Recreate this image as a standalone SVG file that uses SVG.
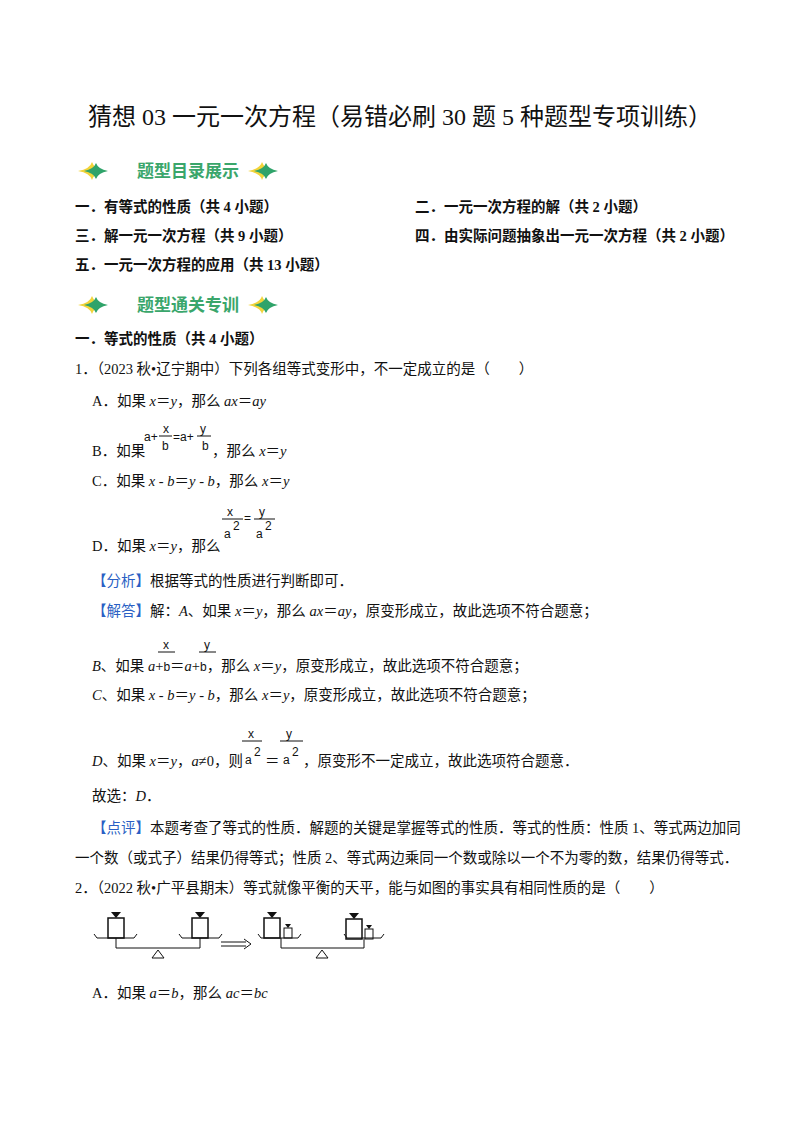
<svg xmlns="http://www.w3.org/2000/svg" width="800" height="1132" viewBox="0 0 800 1132">
<style>
text{font-family:"Liberation Serif","Noto Sans CJK SC",serif;font-size:14.5px;fill:#111}
.b{font-weight:bold;font-family:"Liberation Serif","Noto Sans CJK SC",serif}
.t{font-size:24px}
.ban{font-size:17px;font-weight:bold;fill:#3aa66b;font-family:"Noto Sans CJK SC",sans-serif}
.bl{fill:#2a5fc4}
.i{font-style:italic}
.f{font-family:"Liberation Sans",sans-serif;font-size:12px}
.ln{stroke:#111;stroke-width:1;fill:none}
.g{stroke:#111;stroke-width:1.5;fill:none}
</style>
<defs>
<g id="star"><path d="M0,-9 Q2,-2 14,0 Q2,2 0,9 Q-2,2 -14,0 Q-2,-2 0,-9Z" fill="#f2d43a"/><path d="M4,-8 Q6,-2 16,0 Q6,2 4,8 Q2,2 -8,0 Q2,-2 4,-8Z" fill="#2fa36a"/></g>
<g id="w"><rect x="-8" y="0" width="16" height="20" class="g"/><path d="M-5,-6 L5,-6 L0,0Z" fill="#111"/></g>
<g id="sw"><rect x="-4" y="0" width="8" height="10" class="ln"/><path d="M-3,-4 L3,-4 L0,0Z" fill="#111"/></g>
</defs>
<text x="400" y="125" text-anchor="middle" class="t">猜想 03 一元一次方程（易错必刷 30 题 5 种题型专项训练）</text>
<g id="banner1"><use href="#star" x="92" y="171"/><text x="188" y="177" text-anchor="middle" class="ban">题型目录展示</text><use href="#star" x="262" y="171"/></g>
<text x="75" y="212" class="b">一．有等式的性质（共 4 小题）</text>
<text x="415" y="212" class="b">二．一元一次方程的解（共 2 小题）</text>
<text x="75" y="241" class="b">三．解一元一次方程（共 9 小题）</text>
<text x="415" y="241" class="b">四．由实际问题抽象出一元一次方程（共 2 小题）</text>
<text x="75" y="270" class="b">五．一元一次方程的应用（共 13 小题）</text>
<g id="banner2"><use href="#star" x="92" y="305"/><text x="188" y="311" text-anchor="middle" class="ban">题型通关专训</text><use href="#star" x="262" y="305"/></g>
<text x="75" y="344" class="b">一．等式的性质（共 4 小题）</text>
<text x="75" y="374">1．（2023 秋•辽宁期中）下列各组等式变形中，不一定成立的是（　　）</text>
<text x="92" y="406">A．如果 <tspan class="i">x</tspan>＝<tspan class="i">y</tspan>，那么 <tspan class="i">ax</tspan>＝<tspan class="i">ay</tspan></text>
<text x="92" y="456">B．如果</text>
<text x="144" y="441" class="f">a+</text><text x="163" y="433" class="f">x</text><line x1="159" y1="436" x2="172" y2="436" class="ln"/><text x="162" y="450" class="f">b</text>
<text x="173" y="441" class="f">=a+</text><text x="200" y="433" class="f">y</text><line x1="197" y1="436" x2="211" y2="436" class="ln"/><text x="202" y="450" class="f">b</text>
<text x="212" y="456">，那么 <tspan class="i">x</tspan>＝<tspan class="i">y</tspan></text>
<text x="92" y="486">C．如果 <tspan class="i">x</tspan> - <tspan class="i">b</tspan>＝<tspan class="i">y</tspan> - <tspan class="i">b</tspan>，那么 <tspan class="i">x</tspan>＝<tspan class="i">y</tspan></text>
<text x="92" y="551">D．如果 <tspan class="i">x</tspan>＝<tspan class="i">y</tspan>，那么</text>
<text x="227" y="516" class="f">x</text><line x1="222" y1="519" x2="243" y2="519" class="ln"/><text x="224" y="538" class="f">a</text><text x="233" y="530" class="f">2</text>
<text x="244" y="522" class="f">=</text><text x="259" y="516" class="f">y</text><line x1="254" y1="519" x2="275" y2="519" class="ln"/><text x="256" y="538" class="f">a</text><text x="265" y="530" class="f">2</text>
<text x="92" y="586"><tspan class="bl">【分析】</tspan>根据等式的性质进行判断即可．</text>
<text x="92" y="616"><tspan class="bl">【解答】</tspan>解：<tspan class="i">A</tspan>、如果 <tspan class="i">x</tspan>＝<tspan class="i">y</tspan>，那么 <tspan class="i">ax</tspan>＝<tspan class="i">ay</tspan>，原变形成立，故此选项不符合题意；</text>
<text x="163" y="649" class="f">x</text><line x1="158" y1="652" x2="175" y2="652" class="ln"/>
<text x="204" y="649" class="f">y</text><line x1="199" y1="652" x2="216" y2="652" class="ln"/>
<text x="92" y="671"><tspan class="i">B</tspan>、如果 <tspan class="i">a</tspan>+<tspan class="f">b</tspan>＝<tspan class="i">a</tspan>+<tspan class="f">b</tspan>，那么 <tspan class="i">x</tspan>＝<tspan class="i">y</tspan>，原变形成立，故此选项不符合题意；</text>
<text x="92" y="700"><tspan class="i">C</tspan>、如果 <tspan class="i">x</tspan> - <tspan class="i">b</tspan>＝<tspan class="i">y</tspan> - <tspan class="i">b</tspan>，那么 <tspan class="i">x</tspan>＝<tspan class="i">y</tspan>，原变形成立，故此选项不符合题意；</text>
<text x="248" y="738" class="f">x</text><line x1="242" y1="741" x2="262" y2="741" class="ln"/>
<text x="286" y="738" class="f">y</text><line x1="280" y1="741" x2="303" y2="741" class="ln"/>
<text x="92" y="766"><tspan class="i">D</tspan>、如果 <tspan class="i">x</tspan>＝<tspan class="i">y</tspan>，<tspan class="i">a</tspan>≠0，则</text>
<text x="245" y="764" class="f">a</text><text x="254" y="756" class="f">2</text><text x="265" y="766">＝</text>
<text x="283" y="764" class="f">a</text><text x="292" y="756" class="f">2</text>
<text x="303" y="766">，原变形不一定成立，故此选项符合题意．</text>
<text x="92" y="801">故选：<tspan class="i">D</tspan>．</text>
<text x="92" y="833"><tspan class="bl">【点评】</tspan>本题考查了等式的性质．解题的关键是掌握等式的性质．等式的性质：性质 1、等式两边加同</text>
<text x="75" y="863">一个数（或式子）结果仍得等式；性质 2、等式两边乘同一个数或除以一个不为零的数，结果仍得等式．</text>
<text x="75" y="893">2．（2022 秋•广平县期末）等式就像平衡的天平，能与如图的事实具有相同性质的是（　　）</text>
<g id="balance1">
<path d="M94,934 L97,938 L134,938 L137,934" class="ln"/>
<path d="M179,934 L182,938 L219,938 L222,934" class="ln"/>
<use href="#w" x="116" y="918"/><use href="#w" x="200" y="918"/>
<path d="M116,938 V948 H200 V938" class="ln"/>
<path d="M158,950 L152,958 L164,958Z" class="ln"/>
</g>
<g id="arrow"><path d="M221,942 H246 M221,946 H246 M244,939 L251,944 L244,949" class="ln"/></g>
<g id="balance2">
<path d="M258,934 L261,938 L298,938 L301,934" class="ln"/>
<path d="M344,934 L347,938 L381,938 L384,934" class="ln"/>
<use href="#w" x="272" y="918"/><use href="#sw" x="288" y="928"/>
<use href="#w" x="354" y="919"/><use href="#sw" x="369" y="929"/>
<path d="M281,938 V948 H364 V939" class="ln"/>
<path d="M322,950 L316,958 L328,958Z" class="ln"/>
</g>
<text x="92" y="998">A．如果 <tspan class="i">a</tspan>＝<tspan class="i">b</tspan>，那么 <tspan class="i">ac</tspan>＝<tspan class="i">bc</tspan></text>
</svg>
